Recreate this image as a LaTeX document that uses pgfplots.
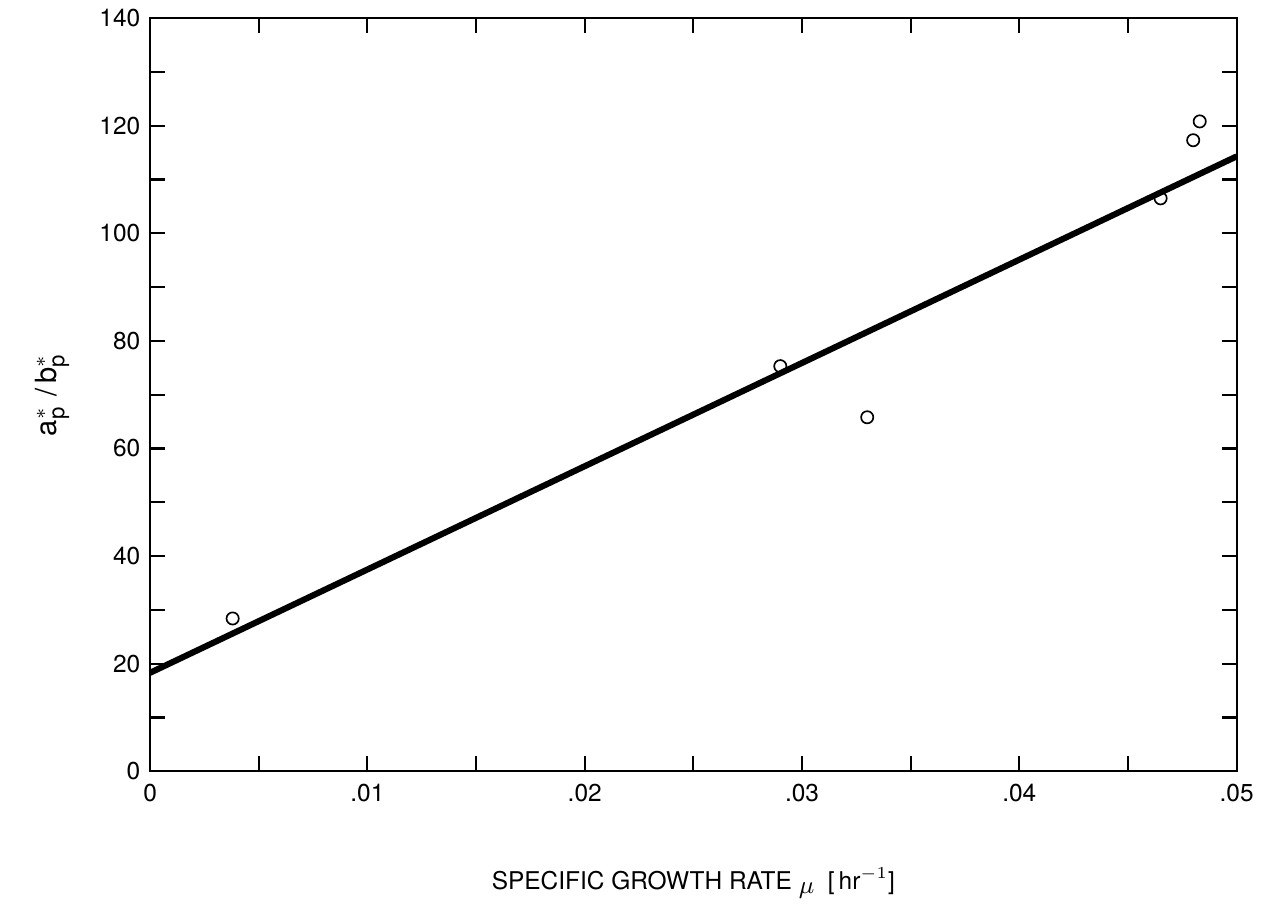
\documentclass[border=0pt]{standalone}
\usepackage{fontspec}
\setmainfont{TeX Gyre Heros}
\usepackage{pgfplots}
\pgfplotsset{compat=1.18}
\begin{document}
\begin{tikzpicture}
\begin{axis}[
  scale only axis,
  width=391pt, height=271pt,
  xmin=0, xmax=0.05, ymin=0, ymax=140,
  axis line style={line width=0.8pt},
  tick style={line width=0.8pt, black},
  major tick length=5.4pt,
  tick align=inside,
  xtick={0,0.005,...,0.0501},
  xticklabels={0,{},.01,{},.02,{},.03,{},.04,{},.05},
  ytick={0,10,...,140},
  yticklabels={0,{},20,{},40,{},60,{},80,{},100,{},120,{},140},
  scaled x ticks=false,
  /pgf/number format/assume math mode=true,
  ticklabel style={font=\fontsize{8.8}{10}\selectfont},
  xticklabel style={yshift=-1pt},
  xlabel style={font=\fontsize{8.8}{10}\selectfont, yshift=-17pt},
  xlabel={SPECIFIC GROWTH RATE \raisebox{-0.3ex}{$\mu$}\ \ [\,hr$^{-1}$]},
  ylabel style={font=\fontsize{10.5}{12}\selectfont, yshift=4pt},
  ylabel={a$^{*}_{\hbox{\fontsize{8}{9}\selectfont p}}$\,\,/\,b$^{*}_{\hbox{\fontsize{8}{9}\selectfont p}}$},
  clip=false,
]
\addplot[black, line width=2.2pt] coordinates {(0,18.3) (0.05,114.3)};
\addplot[only marks, mark=o, mark size=2.2pt, mark options={line width=0.6pt}] coordinates {
(0.0038,28.4) (0.0290,75.3) (0.0330,65.8) (0.0465,106.5) (0.0480,117.3) (0.0483,120.8)};
\end{axis}
\path ([shift={(-54pt,-43pt)}]current axis.south west) rectangle ([shift={(12pt,5.4pt)}]current axis.north east);
\end{tikzpicture}
\end{document}
